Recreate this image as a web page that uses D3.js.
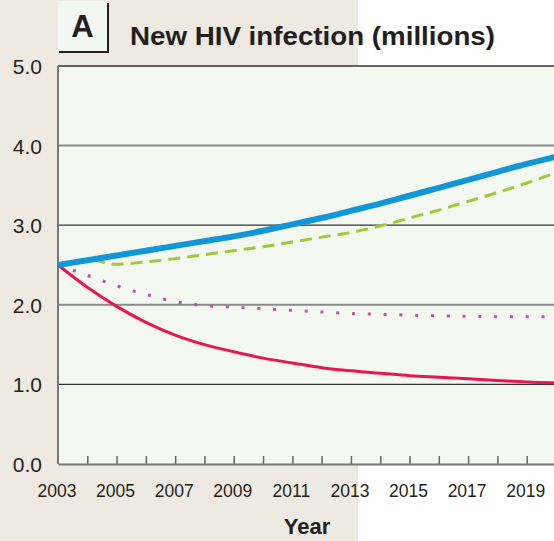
<!DOCTYPE html>
<html>
<head>
<meta charset="utf-8">
<script src="https://cdn.jsdelivr.net/npm/d3@7"></script>
<style>
  body { margin: 0; background: #fff; }
  svg { display: block; font-family: "Liberation Sans", Arial, Helvetica, sans-serif; }
</style>
</head>
<body>
<script>
//chart data
var years = [2003, 2004, 2005, 2006, 2007, 2008, 2009, 2010, 2011, 2012, 2013, 2014, 2015, 2016, 2017, 2018, 2019, 2020];
var blueValues = [2.50, 2.56, 2.62, 2.68, 2.74, 2.80, 2.86, 2.93, 3.01, 3.09, 3.18, 3.27, 3.37, 3.47, 3.57, 3.67, 3.77, 3.86];
var greenYears = [2004.2, 2005, 2006, 2007, 2008, 2009, 2010, 2011, 2012, 2013, 2014, 2015, 2016, 2017, 2018, 2019, 2020];
var greenValues = [2.57, 2.51, 2.54, 2.58, 2.63, 2.68, 2.73, 2.79, 2.85, 2.91, 2.99, 3.09, 3.19, 3.30, 3.41, 3.53, 3.66];
var dottedValues = [2.50, 2.37, 2.24, 2.13, 2.04, 1.99, 1.97, 1.95, 1.93, 1.91, 1.89, 1.88, 1.87, 1.86, 1.855, 1.85, 1.85, 1.85];
var redValues = [2.50, 2.22, 1.98, 1.78, 1.62, 1.50, 1.41, 1.33, 1.27, 1.21, 1.17, 1.14, 1.11, 1.09, 1.07, 1.05, 1.03, 1.02];
var yTicks = [0, 1, 2, 3, 4, 5];
var xLabelYears = [2003, 2005, 2007, 2009, 2011, 2013, 2015, 2017, 2019];

window.onload = drawChart();

function drawChart() {
    var width = 554,
        height = 541;

    var svg = d3.select("body")
        .append("svg")
        .attr("width", width)
        .attr("height", height);

    //beige panel on the left, white on the right
    svg.append("rect").attr("x", 0).attr("y", 0).attr("width", 358).attr("height", height).attr("fill", "#eeeae1");

    var x = d3.scaleLinear().domain([2003, 2020]).range([58, 556]);
    var y = d3.scaleLinear().domain([0, 5]).range([464, 66]);

    //plot background
    svg.append("rect")
        .attr("x", x(2003)).attr("y", y(5))
        .attr("width", width - x(2003)).attr("height", y(0) - y(5))
        .attr("fill", "#f3f8f1");

    //grid lines (odd ones darker and thinner, like the original)
    svg.selectAll(".grid")
        .data(yTicks.slice(1))
        .enter()
        .append("line")
        .attr("class", "grid")
        .attr("x1", x(2003)).attr("x2", width)
        .attr("y1", function(d) { return y(d); })
        .attr("y2", function(d) { return y(d); })
        .attr("stroke", function(d) { return d % 2 ? "#333" : "#8a8a8a"; })
        .attr("stroke-width", function(d) { return d % 2 ? 1.3 : 2; });

    //bottom axis with small upward ticks
    var xAxis = d3.axisBottom(x)
        .tickValues(d3.range(2004, 2020))
        .tickSizeInner(-8)
        .tickSizeOuter(0)
        .tickFormat("");
    var gx = svg.append("g").attr("transform", "translate(0," + y(0) + ")").call(xAxis);
    gx.select(".domain").attr("stroke", "#777").attr("stroke-width", 2);
    gx.selectAll(".tick line").attr("stroke", "#666").attr("stroke-width", 1.5);

    svg.selectAll(".xlab")
        .data(xLabelYears)
        .enter()
        .append("text")
        .attr("class", "xlab")
        .attr("x", function(d) { return x(d) - 1; })
        .attr("y", 497)
        .attr("text-anchor", "middle")
        .attr("font-size", 17.5)
        .attr("fill", "#231f20")
        .text(function(d) { return d; });

    //left axis line
    svg.append("line")
        .attr("x1", x(2003)).attr("x2", x(2003))
        .attr("y1", y(5)).attr("y2", y(0))
        .attr("stroke", "#777").attr("stroke-width", 2);

    svg.selectAll(".ylab")
        .data(yTicks)
        .enter()
        .append("text")
        .attr("class", "ylab")
        .attr("x", 42)
        .attr("y", function(d) { return y(d) + 8; })
        .attr("text-anchor", "end")
        .attr("font-size", 21)
        .attr("fill", "#231f20")
        .text(function(d) { return d.toFixed(1); });

    //series
    var line = d3.line()
        .x(function(d) { return x(d[0]); })
        .y(function(d) { return y(d[1]); })
        .curve(d3.curveMonotoneX);

    svg.append("path")
        .datum(d3.zip(years, dottedValues))
        .attr("d", line)
        .attr("fill", "none")
        .attr("stroke", "#c84fa6")
        .attr("stroke-width", 3)
        .attr("stroke-dasharray", "3,12.8");

    svg.append("path")
        .datum(d3.zip(years, redValues))
        .attr("d", line)
        .attr("fill", "none")
        .attr("stroke", "#ea1653")
        .attr("stroke-width", 3);

    svg.append("path")
        .datum(d3.zip(greenYears, greenValues))
        .attr("d", line)
        .attr("fill", "none")
        .attr("stroke", "#a0c93a")
        .attr("stroke-width", 3)
        .attr("stroke-dasharray", "12,7");

    svg.append("path")
        .datum(d3.zip(years, blueValues))
        .attr("d", line)
        .attr("fill", "none")
        .attr("stroke", "#1197d8")
        .attr("stroke-width", 6);

    //panel letter box
    svg.append("rect")
        .attr("x", 58).attr("y", 1).attr("width", 50).attr("height", 51)
        .attr("fill", "#f3f7f1");
    svg.append("polyline")
        .attr("points", "59,52 108,52 108,3")
        .attr("fill", "none")
        .attr("stroke", "#231f20")
        .attr("stroke-width", 2);
    svg.append("text")
        .attr("x", 82.5).attr("y", 37)
        .attr("text-anchor", "middle")
        .attr("font-size", 31)
        .attr("font-weight", "bold")
        .attr("fill", "#231f20")
        .text("A");

    //title and axis title
    svg.append("text")
        .attr("x", 130).attr("y", 45)
        .attr("font-size", 26)
        .attr("font-weight", "bold")
        .attr("textLength", 365)
        .attr("lengthAdjust", "spacingAndGlyphs")
        .attr("fill", "#231f20")
        .text("New HIV infection (millions)");

    svg.append("text")
        .attr("x", 307).attr("y", 534)
        .attr("text-anchor", "middle")
        .attr("font-size", 22)
        .attr("font-weight", "bold")
        .attr("fill", "#231f20")
        .text("Year");
}
</script>
</body>
</html>
